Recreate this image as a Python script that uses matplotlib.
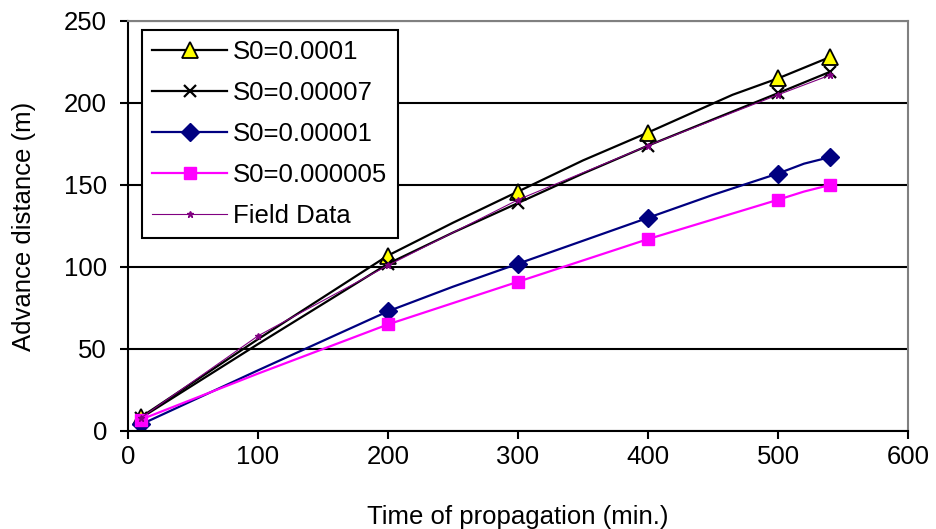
import numpy as np
from matplotlib import pyplot as plt

plt.rcParams['font.family'] = ['Liberation Sans', 'DejaVu Sans']

# S0 = 0.0001 (triangles)
t_a = [10, 100, 200, 250, 300, 350, 400, 465, 500, 540]
d_a = [8.5, 56, 107, 127, 146, 165, 182, 205, 215, 228]
# S0 = 0.00007 (crosses)
t_b = [10, 100, 200, 250, 300, 350, 400, 450, 500, 540]
d_b = [8, 53, 102, 121, 139, 157, 174, 190, 206, 219]
# S0 = 0.00001 (diamonds)
t_c = [10, 100, 200, 250, 300, 350, 400, 450, 500, 520, 540]
d_c = [4, 37, 73, 88, 102, 116, 130, 144, 157, 163, 167]
# S0 = 0.000005 (squares)
t_d = [10, 100, 200, 250, 300, 350, 400, 450, 500, 520, 540]
d_d = [7, 35, 65, 78, 91, 104, 117, 129, 141, 146, 150]
# field data
t_f = [10, 100, 200, 300, 400, 500, 540]
d_f = [8, 58, 101, 141, 174, 205, 217]

mark_times = [10, 200, 300, 400, 500, 540]

labels = ['S0=0.0001', 'S0=0.00007', 'S0=0.00001', 'S0=0.000005', 'Field Data']


def marks(times):
    return [i for i, t in enumerate(times) if t in mark_times]


fig = plt.figure(figsize=(9.36, 5.29), dpi=100)
ax = fig.add_axes([128 / 936, 1 - 431 / 529, 780 / 936, 410 / 529])

fs = 18.5
ax.plot(t_a, d_a, color='black', lw=1.6, marker='^', ms=11, mfc='#ffff00',
        mec='black', mew=1.3, markevery=marks(t_a), label=labels[0])
ax.plot(t_b, d_b, color='black', lw=1.6, marker='x', ms=9, mec='black',
        mew=1.6, markevery=marks(t_b), label=labels[1])
ax.plot(t_c, d_c, color='#000080', lw=1.6, marker='D', ms=9, mfc='#000080',
        mec='#000080', markevery=marks(t_c), label=labels[2])
ax.plot(t_d, d_d, color='#ff00ff', lw=1.6, marker='s', ms=8.5, mfc='#ff00ff',
        mec='#ff00ff', markevery=marks(t_d), label=labels[3])
ax.plot(t_f, d_f, color='#800080', lw=0.8, marker='*', ms=5, mfc='#800080',
        mec='#800080', label=labels[4])

ax.set_xlim(0, 600)
ax.set_ylim(0, 250)
ax.set_xticks(np.arange(0, 601, 100))
ax.set_yticks(np.arange(0, 251, 50))
ax.yaxis.grid(True, color='black', lw=1.5)
ax.set_axisbelow(True)
ax.tick_params(direction='out', length=6, width=1.5, labelsize=fs)
ax.tick_params(axis='x', pad=4)
ax.tick_params(axis='y', pad=9)

for s in ['left', 'bottom']:
    ax.spines[s].set_color('black')
    ax.spines[s].set_linewidth(1.5)
for s in ['top', 'right']:
    ax.spines[s].set_color('#808080')
    ax.spines[s].set_linewidth(1.5)

ax.set_xlabel('Time of propagation (min.)', fontsize=fs, labelpad=26)
ax.set_ylabel('Advance distance (m)', fontsize=fs, labelpad=20)

leg = ax.legend(loc='upper left', bbox_to_anchor=(0.018, 0.978),
                borderaxespad=0, fontsize=fs, handlelength=2.9,
                handletextpad=0.25, labelspacing=0.66, borderpad=0.4,
                fancybox=False, framealpha=1, edgecolor='black', numpoints=1)
leg.get_frame().set_linewidth(1.5)

fig.savefig('out.png', dpi=100)
